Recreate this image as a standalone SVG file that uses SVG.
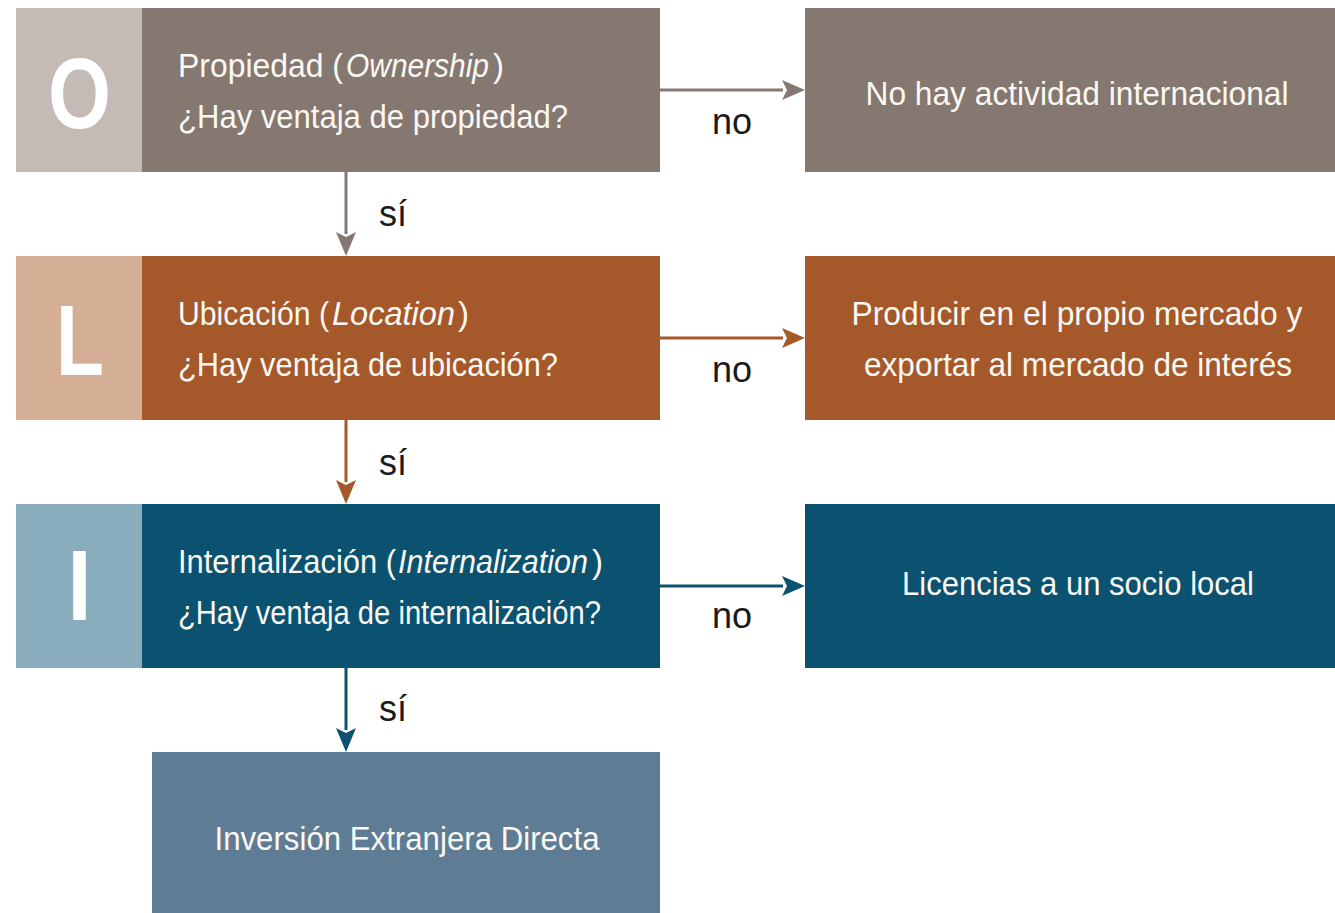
<svg xmlns="http://www.w3.org/2000/svg" width="1335" height="913" viewBox="0 0 1335 913">
<style>
.t{font-family:"Liberation Sans","Open Sans",sans-serif;font-size:33px;fill:#fbf8f4}
.c{text-anchor:middle}
.big{font-family:"Liberation Sans","Open Sans",sans-serif;font-size:100px;font-weight:bold;fill:#ffffff;text-anchor:middle}
.lbl{font-family:"Liberation Sans","Open Sans",sans-serif;font-size:36px;fill:#1a1a1a;text-anchor:middle}
.i{font-style:italic}
.ln{stroke-width:3;fill:none}
.hd{stroke:none}
</style>
<g id="connectors">
<line class="ln" x1="660" y1="90" x2="783" y2="90" stroke="#857870"/>
<path class="hd" d="M782,80 L805,90 L782,100 L787,90 Z" fill="#857870"/>
<line class="ln" x1="660" y1="338" x2="783" y2="338" stroke="#a5582a"/>
<path class="hd" d="M782,328 L805,338 L782,348 L787,338 Z" fill="#a5582a"/>
<line class="ln" x1="660" y1="586" x2="783" y2="586" stroke="#0a526f"/>
<path class="hd" d="M782,576 L805,586 L782,596 L787,586 Z" fill="#0a526f"/>
<line class="ln" x1="346" y1="172" x2="346" y2="234" stroke="#857870"/>
<path class="hd" d="M336,232 L346,256 L356,232 L346,237 Z" fill="#857870"/>
<line class="ln" x1="346" y1="420" x2="346" y2="482" stroke="#a5582a"/>
<path class="hd" d="M336,480 L346,504 L356,480 L346,485 Z" fill="#a5582a"/>
<line class="ln" x1="346" y1="668" x2="346" y2="730" stroke="#0a526f"/>
<path class="hd" d="M336,728 L346,752 L356,728 L346,733 Z" fill="#0a526f"/>
<text class="lbl" x="732" y="134">no</text>
<text class="lbl" x="732" y="382">no</text>
<text class="lbl" x="732" y="628">no</text>
<text class="lbl" x="393" y="226">sí</text>
<text class="lbl" x="393" y="475">sí</text>
<text class="lbl" x="393" y="721">sí</text>
</g>
<g id="node-O">
<rect x="16" y="8" width="126" height="164" fill="#c4bab6"/>
<rect x="142" y="8" width="518" height="164" fill="#857870"/>
<text class="big" x="79.5" y="128" textLength="63" lengthAdjust="spacingAndGlyphs">O</text>
<text class="t" x="178" y="77" textLength="165" lengthAdjust="spacingAndGlyphs">Propiedad (</text>
<text class="t i" x="346" y="77" textLength="143" lengthAdjust="spacingAndGlyphs">Ownership</text>
<text class="t" x="493" y="77" textLength="11" lengthAdjust="spacingAndGlyphs">)</text>
<text class="t" x="178" y="128" textLength="390" lengthAdjust="spacingAndGlyphs">¿Hay ventaja de propiedad?</text>
</g>
<g id="node-noint">
<rect x="805" y="8" width="530" height="164" fill="#857870"/>
<text class="t c" x="1077" y="105" textLength="423" lengthAdjust="spacingAndGlyphs">No hay actividad internacional</text>
</g>
<g id="node-L">
<rect x="16" y="256" width="126" height="164" fill="#d4ae95"/>
<rect x="142" y="256" width="518" height="164" fill="#a5582a"/>
<text class="big" x="80" y="375" textLength="48" lengthAdjust="spacingAndGlyphs">L</text>
<text class="t" x="178" y="325" textLength="151" lengthAdjust="spacingAndGlyphs">Ubicación (</text>
<text class="t i" x="332" y="325" textLength="123" lengthAdjust="spacingAndGlyphs">Location</text>
<text class="t" x="458" y="325" textLength="11" lengthAdjust="spacingAndGlyphs">)</text>
<text class="t" x="178" y="376" textLength="380" lengthAdjust="spacingAndGlyphs">¿Hay ventaja de ubicación?</text>
</g>
<g id="node-export">
<rect x="805" y="256" width="530" height="164" fill="#a5582a"/>
<text class="t c" x="1077" y="325" textLength="451" lengthAdjust="spacingAndGlyphs">Producir en el propio mercado y</text>
<text class="t c" x="1078" y="376" textLength="428" lengthAdjust="spacingAndGlyphs">exportar al mercado de interés</text>
</g>
<g id="node-I">
<rect x="16" y="504" width="126" height="164" fill="#8aadbd"/>
<rect x="142" y="504" width="518" height="164" fill="#0a526f"/>
<text class="big" x="79.5" y="620" textLength="24" lengthAdjust="spacingAndGlyphs">I</text>
<text class="t" x="178" y="573" textLength="218" lengthAdjust="spacingAndGlyphs">Internalización (</text>
<text class="t i" x="398" y="573" textLength="190" lengthAdjust="spacingAndGlyphs">Internalization</text>
<text class="t" x="592" y="573" textLength="11" lengthAdjust="spacingAndGlyphs">)</text>
<text class="t" x="178" y="624" textLength="423" lengthAdjust="spacingAndGlyphs">¿Hay ventaja de internalización?</text>
</g>
<g id="node-lic">
<rect x="805" y="504" width="530" height="164" fill="#0a526f"/>
<text class="t c" x="1078" y="595" textLength="352" lengthAdjust="spacingAndGlyphs">Licencias a un socio local</text>
</g>
<g id="node-ied">
<rect x="152" y="752" width="508" height="161" fill="#5e7d94"/>
<text class="t c" x="407" y="850" textLength="385" lengthAdjust="spacingAndGlyphs">Inversión Extranjera Directa</text>
</g>
</svg>
